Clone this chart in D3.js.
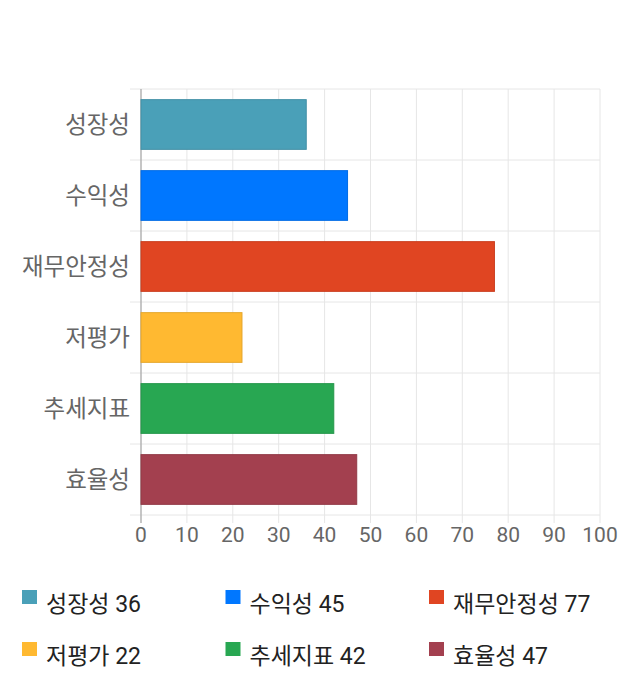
<!DOCTYPE html>
<html>
<head>
<meta charset="utf-8">
<script src="https://cdn.jsdelivr.net/npm/d3@7/dist/d3.min.js"></script>
<style>
  body { margin: 0; background: #fff; font-family: Roboto, "Noto Sans CJK KR", sans-serif; }
  svg text { font-family: Roboto, "Noto Sans CJK KR", sans-serif; }
</style>
</head>
<body>
<svg id="chart"></svg>
<script>
const categories = ['성장성', '수익성', '재무안정성', '저평가', '추세지표', '효율성'];
const values = [36, 45, 77, 22, 42, 47];
const colors = ['#4aa0b8', '#0077ff', '#e04522', '#ffb931', '#28a752', '#a3404f'];
const xTicks = [0, 10, 20, 30, 40, 50, 60, 70, 80, 90, 100];

const width = 640;
const height = 700;
const margin = { top: 89, right: 40, bottom: 185, left: 141 };

const svg = d3.select('#chart')
  .attr('width', width)
  .attr('height', height);

const x = d3.scaleLinear()
  .domain([0, 100])
  .range([margin.left, width - margin.right]);

const y = d3.scaleBand()
  .domain(categories)
  .range([margin.top, height - margin.bottom])
  .paddingInner(0.3)
  .paddingOuter(0.15);

const step = y.step();
const bandEdges = categories.map(c => y(c) - step * y.paddingInner() / 2);
bandEdges.push(height - margin.bottom);

// vertical grid
svg.append('g')
  .selectAll('line')
  .data(xTicks)
  .enter()
  .append('line')
  .attr('x1', d => x(d))
  .attr('x2', d => x(d))
  .attr('y1', margin.top)
  .attr('y2', height - margin.bottom + 8)
  .attr('stroke', '#e6e6e6');

// horizontal grid at band edges
svg.append('g')
  .selectAll('line')
  .data(bandEdges)
  .enter()
  .append('line')
  .attr('x1', margin.left - 11)
  .attr('x2', x(100))
  .attr('y1', d => d)
  .attr('y2', d => d)
  .attr('stroke', '#e6e6e6');

// y axis line
svg.append('line')
  .attr('x1', x(0))
  .attr('x2', x(0))
  .attr('y1', margin.top)
  .attr('y2', height - margin.bottom + 8)
  .attr('stroke', '#999');

// bars
svg.append('g')
  .selectAll('rect')
  .data(categories)
  .enter()
  .append('rect')
  .attr('x', x(0))
  .attr('y', d => y(d))
  .attr('width', (d, i) => x(values[i]) - x(0))
  .attr('height', y.bandwidth())
  .attr('fill', (d, i) => colors[i])
  .attr('stroke', (d, i) => d3.color(colors[i]).darker(0.3))
  .attr('stroke-width', 1);

// category labels
svg.append('g')
  .selectAll('text')
  .data(categories)
  .enter()
  .append('text')
  .attr('x', margin.left - 11)
  .attr('y', d => y(d) + y.bandwidth() / 2)
  .attr('dy', '0.35em')
  .attr('text-anchor', 'end')
  .attr('font-size', '23.5px')
  .attr('fill', '#666')
  .text(d => d);

// x tick labels
svg.append('g')
  .selectAll('text')
  .data(xTicks)
  .enter()
  .append('text')
  .attr('x', d => x(d))
  .attr('y', height - margin.bottom + 27)
  .attr('text-anchor', 'middle')
  .attr('font-size', '21px')
  .attr('fill', '#666')
  .text(d => d);

// legend
const legend = svg.append('g')
  .selectAll('g')
  .data(categories)
  .enter()
  .append('g')
  .attr('transform', (d, i) => `translate(${22 + (i % 3) * 203.5},${590 + Math.floor(i / 3) * 52})`);

legend.append('rect')
  .attr('width', 15)
  .attr('height', 14)
  .attr('fill', (d, i) => colors[i]);

legend.append('text')
  .attr('x', 24)
  .attr('y', 22)
  .attr('font-size', '23px')
  .attr('fill', '#222')
  .text((d, i) => `${d} ${values[i]}`);
</script>
</body>
</html>
